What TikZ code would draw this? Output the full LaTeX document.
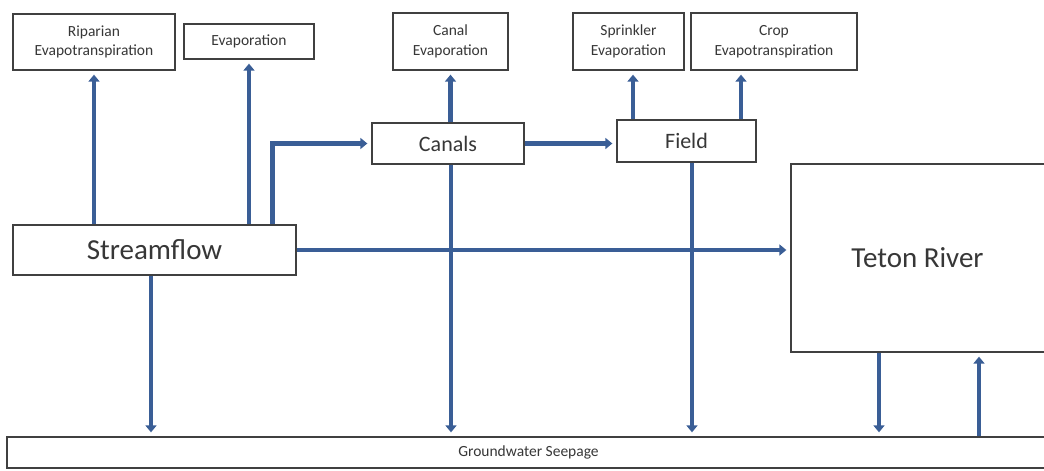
\documentclass[tikz,border=0pt]{standalone}
\usepackage{fontspec}
\setmainfont{Carlito}
\usetikzlibrary{arrows.meta,calc}
\definecolor{flowblue}{RGB}{58,94,150}
\definecolor{boxline}{RGB}{64,64,64}
\definecolor{txt}{RGB}{55,55,55}
\tikzset{
  box/.style={draw=boxline, line width=1.3pt, fill=white, inner sep=2pt, align=center, text=txt},
  small/.style={font=\fontsize{15.5}{19.5}\selectfont},
  mid/.style={font=\fontsize{22}{24}\selectfont},
  big/.style={font=\fontsize{29}{32}\selectfont},
  arr/.style={draw=flowblue, line width=4.8pt, -{Triangle[length=7pt,width=11pt]}, shorten >=4pt},
}
\begin{document}
\begin{tikzpicture}[x=1pt,y=1pt]
\useasboundingbox (0,0) rectangle (1044,-471);
% top boxes
\node[box, small, minimum width=162pt, minimum height=56pt] (rip) at (94,-42) {Riparian\\Evapotranspiration};
\node[box, small, minimum width=130pt, minimum height=35pt] (evap) at (249,-41.5) {Evaporation};
\node[box, small, minimum width=115pt, minimum height=57pt] (cev) at (450.5,-41.5) {Canal\\Evaporation};
\node[box, small, minimum width=111pt, minimum height=57pt] (spr) at (628.5,-41.5) {Sprinkler\\Evaporation};
\node[box, small, minimum width=166pt, minimum height=57pt] (crop) at (774,-41.5) {Crop\\Evapotranspiration};
% middle boxes
\node[box, mid, minimum width=152pt, minimum height=41pt] (can) at (448,-143.5) {Canals};
\node[box, mid, minimum width=139pt, minimum height=42pt] (fld) at (686.5,-141) {Field};
\node[box, big, minimum width=283pt, minimum height=50pt] (sf) at (154.5,-250) {\raisebox{-2pt}{Streamflow}};
\node[box, big, minimum width=259pt, minimum height=188pt] (ter) at (920.5,-258) {\hspace*{-6pt}\raisebox{-5pt}{Teton River}};
\node[box, small, minimum width=1043pt, minimum height=31pt] (gw) at (528.5,-452.5) {Groundwater Seepage};
% connectors
\draw[arr] (sf.north -| rip.south) -- (rip.south);
\draw[arr] (sf.north -| evap.south) -- (evap.south);
\draw[arr] ($(sf.north)+(118,0)$) |- (can.west);
\draw[arr] (sf.east) -- (sf.east -| ter.west);
\draw[arr] (sf.south -| 151,0) -- (gw.north -| 151,0);
\draw[arr] (can.north -| cev.south) -- (cev.south);
\draw[arr] (can.east) -- (can.east -| fld.west);
\draw[arr] (can.south -| 451,0) -- (gw.north -| 451,0);
\draw[arr] (fld.north -| 633,0) -- (spr.south -| 633,0);
\draw[arr] (fld.north -| 741,0) -- (crop.south -| 741,0);
\draw[arr] (fld.south -| 692,0) -- (gw.north -| 692,0);
\draw[arr] (ter.south -| 879,0) -- (gw.north -| 879,0);
\draw[arr] (gw.north -| 979,0) -- (ter.south -| 979,0);
\end{tikzpicture}
\end{document}
